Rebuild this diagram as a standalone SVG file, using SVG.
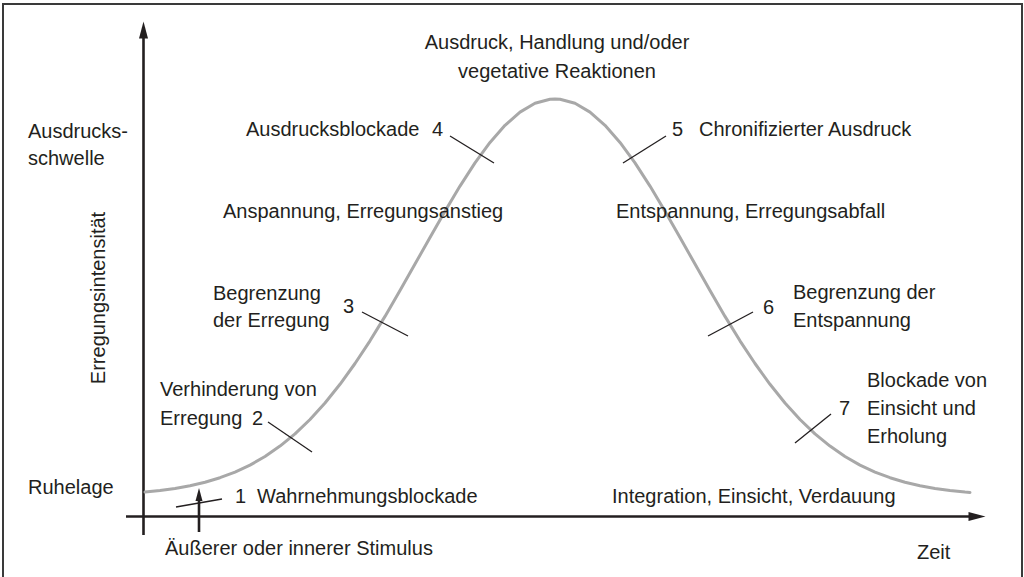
<svg xmlns="http://www.w3.org/2000/svg" width="1024" height="577" viewBox="0 0 1024 577">
<style>
text{font-family:"Liberation Sans",Arial,sans-serif;font-size:20px;fill:#231f20}
.tick{stroke:#231f20;stroke-width:1.3;fill:none}
.axis{stroke:#231f20;stroke-width:2.6;fill:none}
</style>
<defs>
<marker id="ah" markerWidth="10" markerHeight="10" viewBox="0 0 10 10" refX="10" refY="5" orient="auto" markerUnits="userSpaceOnUse">
<path d="M0,0 L10,5 L0,10 Z" fill="#231f20"/>
</marker>
</defs>
<rect width="1024" height="577" fill="#fff"/>
<path d="M3,580 V4 H1022 V580" fill="none" stroke="#3a3a3a" stroke-width="2"/>
<g id="connectors">
<line class="axis" x1="143.5" y1="535" x2="143.5" y2="38"/>
<path d="M139,38.5 L143.5,21.5 L148,38.5 Z" fill="#231f20"/>
<line class="axis" x1="126" y1="516.5" x2="969" y2="516.5"/>
<path d="M968.5,512 L985.5,516.5 L968.5,521 Z" fill="#231f20"/>
<line class="axis" x1="199" y1="532" x2="199" y2="500"/>
<path d="M195.5,501 L199,488 L202.5,501 Z" fill="#231f20"/>
<path id="curve" d="M145,492.1 L160,490.5 L175,488.4 L190,485.7 L205,482.2 L220,477.7 L235,472.1 L250,465.1 L265,456.5 L280,446.1 L295,433.9 L310,419.5 L325,403.0 L340,384.3 L355,363.5 L370,340.8 L385,316.4 L400,290.6 L415,264.1 L430,237.4 L445,211.2 L460,186.1 L475,162.9 L490,142.4 L505,125.3 L520,112.1 L535,103.3 L550,99.3 L555,99 L560,99.3 L575,103.3 L590,112.1 L605,125.3 L620,142.4 L635,162.9 L650,186.1 L665,211.2 L680,237.4 L695,264.1 L710,290.6 L725,316.4 L740,340.8 L755,363.5 L770,384.3 L785,403.0 L800,419.5 L815,433.9 L830,446.1 L845,456.5 L860,465.1 L875,472.1 L890,477.7 L905,482.2 L920,485.7 L935,488.4 L950,490.5 L965,492.1 L970,492.5" fill="none" stroke="#a8a8a8" stroke-width="3" stroke-linejoin="round" stroke-linecap="round"/>
<line class="tick" x1="176" y1="507" x2="222" y2="499"/>
<line class="tick" x1="268" y1="422" x2="312" y2="452"/>
<line class="tick" x1="362" y1="312" x2="408" y2="336"/>
<line class="tick" x1="450" y1="136" x2="494" y2="163"/>
<line class="tick" x1="666" y1="136" x2="623" y2="163"/>
<line class="tick" x1="753" y1="312" x2="708" y2="336"/>
<line class="tick" x1="831" y1="414" x2="795" y2="443"/>
</g>
<g id="axis-labels">
<text x="28" y="138">Ausdrucks-</text>
<text x="28" y="165">schwelle</text>
<text x="28" y="494">Ruhelage</text>
<text transform="translate(105,298) rotate(-90)" text-anchor="middle">Erregungsintensität</text>
<text x="165" y="555">Äußerer oder innerer Stimulus</text>
<text x="917" y="559">Zeit</text>
</g>
<g id="peak">
<text x="557" y="49" text-anchor="middle">Ausdruck, Handlung und/oder</text>
<text x="557" y="78" text-anchor="middle">vegetative Reaktionen</text>
</g>
<g id="phase-rise"><text x="223" y="218">Anspannung, Erregungsanstieg</text></g>
<g id="phase-fall"><text x="616" y="218">Entspannung, Erregungsabfall</text></g>
<g id="phase-integration"><text x="612" y="503">Integration, Einsicht, Verdauung</text></g>
<g id="n1"><text x="235" y="503">1</text><text x="257" y="503">Wahrnehmungsblockade</text></g>
<g id="n2"><text x="160" y="396">Verhinderung von</text><text x="160" y="425">Erregung</text><text x="252" y="425">2</text></g>
<g id="n3"><text x="213" y="300">Begrenzung</text><text x="213" y="327">der Erregung</text><text x="343" y="313">3</text></g>
<g id="n4"><text x="246" y="136">Ausdrucksblockade</text><text x="432" y="136">4</text></g>
<g id="n5"><text x="672" y="136">5</text><text x="699" y="136">Chronifizierter Ausdruck</text></g>
<g id="n6"><text x="763" y="314">6</text><text x="793" y="299">Begrenzung der</text><text x="793" y="327">Entspannung</text></g>
<g id="n7"><text x="839" y="415">7</text><text x="867" y="387">Blockade von</text><text x="867" y="415">Einsicht und</text><text x="867" y="443">Erholung</text></g>
</svg>
